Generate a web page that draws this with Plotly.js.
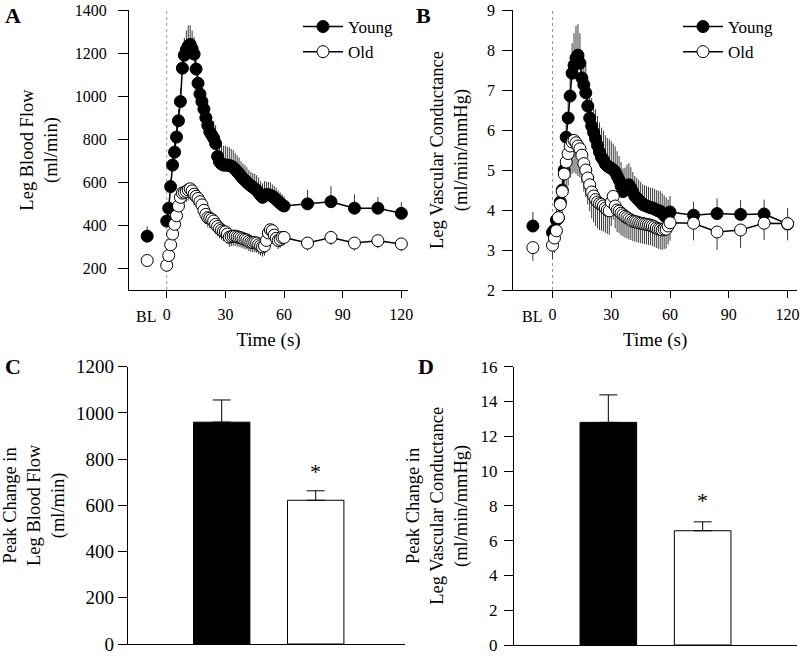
<!DOCTYPE html>
<html>
<head>
<meta charset="utf-8">
<script src="https://cdn.plot.ly/plotly-3.0.1.min.js"></script>
<style>html,body{margin:0;padding:0;background:#fff;}#chart{width:800px;height:656px;}</style>
</head>
<body>
<div id="chart"></div>
<script>
// ---------- DATA ----------
var baselineTime = [-10];
var stimulusTime = 0;
var timeSec = [0,1,2,3,4,5,6,7,8,9,10,11,12,13,14,15,16,17,18,19,20,21,22,23,24,25,26,27,28,29,30,
  31,32,33,34,35,36,37,38,39,40,41,42,43,44,45,46,47,48,49,50,51,52,53,54,55,56,57,58,59,60,72,84,96,108,120];

// Panel A: Leg blood flow (ml/min)
var flowYoungBL = [350];
var flowYoungBLErr = [46];
var flowOldBL = [237];
var flowOldBLErr = [0];
var flowYoung = [420,480,580,680,740,810,886,975,1130,1190,1215,1233,1240,1220,1195,1126,1060,1010,975,940,900,
  865,835,820,805,780,720,695,685,680,680,680,678,675,670,660,650,640,628,618,610,600,592,584,578,
  570,563,552,540,530,540,543,542,540,535,528,520,512,503,495,490,500,510,480,480,456];
var flowYoungErr = [30,30,35,40,45,50,55,60,70,80,90,95,90,85,80,75,70,70,70,75,75,
  75,80,80,80,85,85,90,90,90,90,85,85,80,80,75,75,75,70,70,70,70,65,65,65,
  70,70,70,65,65,65,60,60,60,55,55,55,50,50,50,45,66,72,64,52,52];
var flowOld = [215,260,310,360,405,445,490,530,550,553,558,565,570,560,545,535,525,510,495,470,451,
  436,433,428,420,405,395,385,378,372,370,360,345,348,350,350,347,345,342,338,335,332,326,322,320,
  320,318,310,305,300,305,330,365,380,375,355,340,330,335,344,344,318,344,318,329,314];
var flowOldErr = [25,30,35,40,40,45,45,50,50,50,50,50,50,50,50,48,48,46,46,45,45,
  45,45,45,45,45,45,45,45,45,45,45,45,45,45,45,45,45,45,45,45,45,45,45,45,
  45,45,45,45,45,45,40,40,40,40,40,40,40,40,40,38,35,35,35,35,35];

// Panel B: Leg vascular conductance (ml/min/mmHg)
var condYoungBL = [3.6];
var condYoungBLErr = [0.35];
var condOldBL = [3.06];
var condOldBLErr = [0.33];
var condYoung = [3.44,3.5,3.75,3.8,4.2,4.5,5.0,5.82,6.3,6.85,7.42,7.62,7.8,7.87,7.67,7.3,7.13,6.93,6.6,6.3,6.1,
  5.94,5.78,5.61,5.45,5.32,5.25,5.15,5.1,5.07,5.04,5.0,4.95,4.85,4.75,4.6,4.46,4.5,4.58,4.63,4.55,
  4.45,4.35,4.3,4.25,4.2,4.14,4.12,4.1,4.08,4.06,4.05,4.03,4.0,3.98,3.97,3.92,3.87,3.82,3.81,3.95,
  3.87,3.91,3.89,3.9,3.65];
var condYoungErr = [0.3,0.3,0.3,0.35,0.4,0.45,0.5,0.55,0.6,0.7,0.75,0.8,0.8,0.78,0.75,0.7,0.7,0.7,0.7,0.7,0.7,
  0.72,0.74,0.74,0.74,0.74,0.74,0.72,0.7,0.7,0.68,0.66,0.64,0.62,0.6,0.6,0.58,0.56,0.55,0.54,0.52,
  0.5,0.5,0.5,0.5,0.5,0.5,0.5,0.5,0.5,0.5,0.5,0.5,0.5,0.5,0.5,0.5,0.5,0.5,0.45,0.4,
  0.34,0.38,0.36,0.36,0.4];
var condOld = [3.12,3.3,3.48,3.81,4.14,4.46,4.9,5.2,5.41,5.6,5.7,5.74,5.68,5.6,5.53,5.37,5.16,5.0,4.8,4.63,4.45,
  4.35,4.26,4.2,4.16,4.14,4.1,4.05,4.0,3.98,4.2,4.34,4.1,4.0,3.97,3.92,3.88,3.84,3.81,3.78,3.75,
  3.72,3.71,3.7,3.68,3.67,3.66,3.65,3.64,3.63,3.62,3.6,3.58,3.55,3.53,3.52,3.5,3.52,3.52,3.6,3.68,
  3.67,3.45,3.5,3.67,3.66];
var condOldErr = [0.35,0.37,0.4,0.45,0.5,0.6,0.7,0.75,0.8,0.8,0.8,0.8,0.78,0.75,0.72,0.7,0.7,0.68,0.66,0.66,0.66,
  0.66,0.66,0.66,0.66,0.66,0.64,0.62,0.6,0.6,0.6,0.58,0.56,0.55,0.55,0.55,0.54,0.53,0.52,0.52,0.5,
  0.5,0.5,0.5,0.5,0.5,0.5,0.5,0.5,0.5,0.5,0.5,0.5,0.5,0.5,0.5,0.5,0.5,0.48,0.46,0.45,
  0.43,0.45,0.45,0.42,0.42];

// Panels C & D: peak change
var groups = ['Young', 'Old'];
var peakFlow = [960, 622];
var peakFlowErr = [96, 41];
var peakCond = [12.8, 6.57];
var peakCondErr = [1.58, 0.51];
var sigMark = ['', '*'];

// x tick labels for time axes
var timeTickVals = [0, 30, 60, 90, 120];
var timeTickText = ['0', '30', '60', '90', '120'];
var baselineLabel = 'BL';

// ---------- STYLE ----------
var SERIF = 'Liberation Serif, Times New Roman, serif';
function zeros(n){ return new Array(n).fill(0); }
var ERRC = '#3a3a3a';

function youngTrace(x, y, err, xa, ya, legendId, show, withLine){
  return {x:x, y:y, type:'scatter', mode: withLine ? 'lines+markers' : 'markers', name:'Young',
    xaxis:xa, yaxis:ya, legend:legendId, showlegend:show,
    line:{color:'#000', width:1.5},
    marker:{symbol:'circle', size:12, color:'#000', line:{color:'#000', width:1}},
    error_y:{type:'data', symmetric:false, array:err, arrayminus:zeros(err.length), color:ERRC, thickness:1, width:0},
    hoverinfo:'skip'};
}
function oldTrace(x, y, err, xa, ya, legendId, show, withLine){
  return {x:x, y:y, type:'scatter', mode: withLine ? 'lines+markers' : 'markers', name:'Old',
    xaxis:xa, yaxis:ya, legend:legendId, showlegend:show,
    line:{color:'#000', width:1.5},
    marker:{symbol:'circle', size:12, color:'#fff', line:{color:'#000', width:1}},
    error_y:{type:'data', symmetric:false, array:zeros(err.length), arrayminus:err, color:ERRC, thickness:1, width:0},
    hoverinfo:'skip'};
}

var traces = [
  youngTrace(timeSec, flowYoung, flowYoungErr, 'x', 'y', 'legend', true, true),
  youngTrace(baselineTime, flowYoungBL, flowYoungBLErr, 'x', 'y', 'legend', false, false),
  oldTrace(timeSec, flowOld, flowOldErr, 'x', 'y', 'legend', true, true),
  oldTrace(baselineTime, flowOldBL, flowOldBLErr, 'x', 'y', 'legend', false, false),
  youngTrace(timeSec, condYoung, condYoungErr, 'x2', 'y2', 'legend2', true, true),
  youngTrace(baselineTime, condYoungBL, condYoungBLErr, 'x2', 'y2', 'legend2', false, false),
  oldTrace(timeSec, condOld, condOldErr, 'x2', 'y2', 'legend2', true, true),
  oldTrace(baselineTime, condOldBL, condOldBLErr, 'x2', 'y2', 'legend2', false, false),
  {x:groups, y:peakFlow, type:'bar', xaxis:'x3', yaxis:'y3', width:0.6, showlegend:false,
    marker:{color:['#000','#fff'], line:{color:'#000', width:1}},
    error_y:{type:'data', symmetric:false, array:peakFlowErr, arrayminus:zeros(2), color:'#000', thickness:1, width:9},
    hoverinfo:'skip'},
  {x:groups, y:peakCond, type:'bar', xaxis:'x4', yaxis:'y4', width:0.6, showlegend:false,
    marker:{color:['#000','#fff'], line:{color:'#000', width:1}},
    error_y:{type:'data', symmetric:false, array:peakCondErr, arrayminus:zeros(2), color:'#000', thickness:1, width:9},
    hoverinfo:'skip'}
];

var W = 800, H = 656;
function px(x){ return x / W; }
function py(y){ return 1 - y / H; }

var baseAxis = {showline:true, linecolor:'#000', linewidth:1, ticks:'outside', tickcolor:'#000', tickwidth:1,
  showgrid:false, zeroline:false, mirror:false, fixedrange:true, ticklabeloverflow:'allow',
  tickfont:{family:SERIF, size:16, color:'#000'}};
function ax(extra){ return Object.assign({}, baseAxis, extra); }
var titleFont = {family:SERIF, size:18.5, color:'#000'};
var xTitleFont = {family:SERIF, size:19, color:'#000'};

var layout = {
  width:W, height:H, margin:{l:0, r:0, t:0, b:0},
  paper_bgcolor:'#fff', plot_bgcolor:'#fff',
  font:{family:SERIF, size:16, color:'#000'},
  xaxis: ax({domain:[px(129), px(408)], range:[-19.3, 123.4], anchor:'y', tickvals:timeTickVals, ticktext:timeTickText, ticklen:7,
    ticklabelstandoff:3, title:{text:'Time (s)', font:xTitleFont, standoff:10}}),
  yaxis: ax({domain:[py(290), py(10)], range:[100, 1400], anchor:'x', tickvals:[200,400,600,800,1000,1200,1400], ticklen:10,
    ticklabelstandoff:8, title:{text:'Leg Blood Flow<br>(ml/min)', font:titleFont, standoff:12}}),
  xaxis2: ax({domain:[px(513.3), px(797)], range:[-20, 124.8], anchor:'y2', tickvals:timeTickVals, ticktext:timeTickText, ticklen:7,
    ticklabelstandoff:3, title:{text:'Time (s)', font:xTitleFont, standoff:10}}),
  yaxis2: ax({domain:[py(290), py(10)], range:[2, 9], anchor:'x2', tickvals:[2,3,4,5,6,7,8,9], ticklen:10,
    ticklabelstandoff:4, title:{text:'Leg Vascular Conductance<br>(ml/min/mmHg)', font:titleFont, standoff:14}}),
  xaxis3: ax({domain:[px(127.7), px(405)], range:[-1, 1.95], anchor:'y3', type:'category', ticks:'', showticklabels:false}),
  yaxis3: ax({domain:[py(644), py(366.7)], range:[0, 1200], anchor:'x3', tickvals:[0,200,400,600,800,1000,1200], ticklen:9,
    tickfont:{family:SERIF, size:19, color:'#000'},
    title:{text:'Peak Change in<br>Leg Blood Flow<br>(ml/min)', font:titleFont, standoff:6}}),
  xaxis4: ax({domain:[px(514), px(797)], range:[-1, 2], anchor:'y4', type:'category', ticks:'', showticklabels:false}),
  yaxis4: ax({domain:[py(645), py(366.7)], range:[0, 16], anchor:'x4', tickvals:[0,2,4,6,8,10,12,14,16], ticklen:9,
    tickfont:{family:SERIF, size:17, color:'#000'}, ticklabelstandoff:3,
    title:{text:'Peak Change in<br>Leg Vascular Conductance<br>(ml/min/mmHg)', font:titleFont, standoff:8}}),
  legend: {x:px(298), y:py(9), xanchor:'left', yanchor:'top', bgcolor:'rgba(0,0,0,0)', borderwidth:0,
    font:{family:SERIF, size:17, color:'#000'}, itemwidth:40, tracegroupgap:0},
  legend2: {x:px(678), y:py(9), xanchor:'left', yanchor:'top', bgcolor:'rgba(0,0,0,0)', borderwidth:0,
    font:{family:SERIF, size:17, color:'#000'}, itemwidth:40, tracegroupgap:0},
  shapes: [
    {type:'line', xref:'x', yref:'y domain', x0:stimulusTime, x1:stimulusTime, y0:0, y1:1, line:{color:'#999', width:1, dash:'dot'}, layer:'below'},
    {type:'line', xref:'x2', yref:'y2 domain', x0:stimulusTime, x1:stimulusTime, y0:0, y1:1, line:{color:'#999', width:1, dash:'dot'}, layer:'below'}
  ],
  annotations: [
    {text:'<b>A</b>', xref:'paper', yref:'paper', x:px(3), y:py(1), xanchor:'left', yanchor:'top', showarrow:false, font:{family:SERIF, size:22, color:'#000'}},
    {text:'<b>B</b>', xref:'paper', yref:'paper', x:px(414), y:py(1), xanchor:'left', yanchor:'top', showarrow:false, font:{family:SERIF, size:22, color:'#000'}},
    {text:'<b>C</b>', xref:'paper', yref:'paper', x:px(3), y:py(352), xanchor:'left', yanchor:'top', showarrow:false, font:{family:SERIF, size:22, color:'#000'}},
    {text:'<b>D</b>', xref:'paper', yref:'paper', x:px(416), y:py(352), xanchor:'left', yanchor:'top', showarrow:false, font:{family:SERIF, size:22, color:'#000'}},
    {text:baselineLabel, xref:'x', yref:'paper', x:baselineTime[0] - 0.5, y:py(316), xanchor:'center', yanchor:'middle', showarrow:false, font:{family:SERIF, size:16, color:'#000'}},
    {text:baselineLabel, xref:'x2', yref:'paper', x:baselineTime[0] - 0.5, y:py(316), xanchor:'center', yanchor:'middle', showarrow:false, font:{family:SERIF, size:16, color:'#000'}},
    {text:sigMark[1], xref:'x3', yref:'y3', x:groups[1], y:peakFlow[1] + peakFlowErr[1], xanchor:'center', yanchor:'bottom', yshift:5, showarrow:false, font:{family:SERIF, size:22, color:'#000'}},
    {text:sigMark[1], xref:'x4', yref:'y4', x:groups[1], y:peakCond[1] + peakCondErr[1], xanchor:'center', yanchor:'bottom', yshift:7, showarrow:false, font:{family:SERIF, size:22, color:'#000'}}
  ]
};

Plotly.newPlot('chart', traces, layout, {displayModeBar:false, staticPlot:true});
</script>
</body>
</html>
